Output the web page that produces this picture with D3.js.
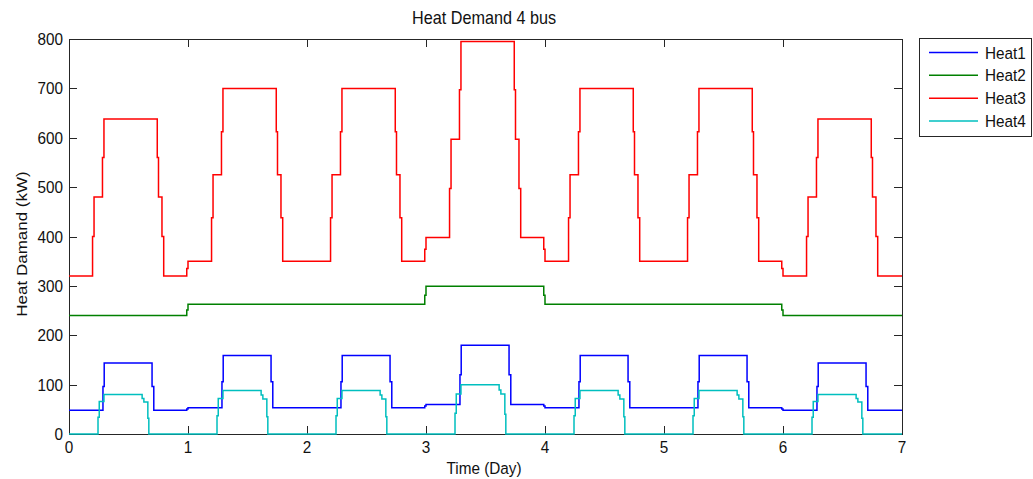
<!DOCTYPE html>
<html>
<head>
<meta charset="utf-8">
<script src="https://cdn.jsdelivr.net/npm/d3@7"></script>
<style>
  body { margin: 0; background: #fff; }
  svg text { font-family: "Liberation Sans", Arial, sans-serif; fill: #111; }
  .frame { fill: none; stroke: #262626; stroke-width: 1; shape-rendering: crispEdges; }
  .tick-mark { stroke: #262626; stroke-width: 1; shape-rendering: crispEdges; }
  .series { fill: none; stroke-width: 1.5; }
</style>
</head>
<body>
<svg id="chart" width="1033" height="479"></svg>
<script>
// one profile per day, levels start at the given hour of that day
const dayCount = 7;
const xTicks = [0, 1, 2, 3, 4, 5, 6, 7];
const yTicks = [0, 100, 200, 300, 400, 500, 600, 700, 800];

const heat1Hours = [0, 6.85, 7.1, 16.75, 17.1];
const heat1Levels = [
    [48, 96, 144, 96, 48],
    [53, 106, 159, 106, 53],
    [53, 106, 159, 106, 53],
    [60, 120, 180, 120, 60],
    [53, 106, 159, 106, 53],
    [53, 106, 159, 106, 53],
    [48, 96, 144, 96, 48],
];
const heat1Midnight = [50.5, 53, 56.5, 56.5, 53, 50.5];

const heat2Hours = [0];
const heat2Levels = [[240], [263], [263], [299], [263], [263], [240]];
const heat2Midnight = [251, 263, 281, 281, 263, 251];

const heat3Hours = [0, 4.75, 5.05, 6.75, 7.05, 17.8, 18.05, 18.75, 19.1];
const heat3Levels = [
    [320, 400, 480, 560, 638, 560, 480, 400, 320],
    [350, 438, 525, 612, 700, 612, 525, 438, 350],
    [350, 438, 525, 612, 700, 612, 525, 438, 350],
    [398, 497, 597, 697, 795, 697, 597, 497, 398],
    [350, 438, 525, 612, 700, 612, 525, 438, 350],
    [350, 438, 525, 612, 700, 612, 525, 438, 350],
    [320, 400, 480, 560, 638, 560, 480, 400, 320],
];
const heat3Midnight = [335, 350, 374, 374, 350, 335];

const heat4Hours = [0, 5.85, 6.1, 7.05, 14.75, 15.1, 15.9, 16.1];
const heat4Levels = [
    [0, 34, 66, 80, 72, 65, 32, 0],
    [0, 37, 72, 88, 79, 71, 35, 0],
    [0, 37, 72, 88, 79, 71, 35, 0],
    [0, 42, 81, 100, 89, 81, 40, 0],
    [0, 37, 72, 88, 79, 71, 35, 0],
    [0, 37, 72, 88, 79, 71, 35, 0],
    [0, 34, 66, 80, 72, 65, 32, 0],
];
const heat4Midnight = [0, 0, 0, 0, 0, 0];

const seriesNames = ['Heat1', 'Heat2', 'Heat3', 'Heat4'];
const seriesColors = ['#0000ff', '#008000', '#ff0000', '#00bfbf'];

// turn the per-day profiles into step points (x in days)
function buildSteps(hours, levels, midnight) {
    const pts = [];
    for (let d = 0; d < dayCount; d++) {
        hours.forEach((h, i) => pts.push([d + h / 24, levels[d][i]]));
        if (d < dayCount - 1) {
            pts.push([d + 23.75 / 24, midnight[d]]);
        }
    }
    const last = levels[dayCount - 1];
    pts.push([dayCount, last[last.length - 1]]);
    return pts;
}

const series = [
    buildSteps(heat1Hours, heat1Levels, heat1Midnight),
    buildSteps(heat2Hours, heat2Levels, heat2Midnight),
    buildSteps(heat3Hours, heat3Levels, heat3Midnight),
    buildSteps(heat4Hours, heat4Levels, heat4Midnight),
];

const plot = {left: 69, right: 902, top: 39, bottom: 434};
const tickLen = 8;
const squeeze = 'scale(0.9,1)';

const svg = d3.select('#chart');

const xScale = d3.scaleLinear()
    .domain([0, 7])
    .range([plot.left, plot.right]);

const yScale = d3.scaleLinear()
    .domain([0, 800])
    .range([plot.bottom, plot.top]);

// axes box
svg.append('rect')
    .attr('class', 'frame')
    .attr('x', plot.left + 0.5)
    .attr('y', plot.top + 0.5)
    .attr('width', plot.right - plot.left)
    .attr('height', plot.bottom - plot.top);

const ticks = svg.append('g');

xTicks.forEach(t => {
    const x = Math.round(xScale(t)) + 0.5;
    ticks.append('line').attr('class', 'tick-mark')
        .attr('x1', x).attr('x2', x)
        .attr('y1', plot.bottom).attr('y2', plot.bottom - tickLen);
    ticks.append('line').attr('class', 'tick-mark')
        .attr('x1', x).attr('x2', x)
        .attr('y1', plot.top).attr('y2', plot.top + tickLen);
    ticks.append('text')
        .attr('transform', 'translate(' + xScale(t) + ',' + 453 + ') ' + squeeze)
        .attr('text-anchor', 'middle')
        .style('font-size', '17px')
        .text(t);
});

yTicks.forEach(v => {
    const y = Math.round(yScale(v)) + 0.5;
    ticks.append('line').attr('class', 'tick-mark')
        .attr('x1', plot.left).attr('x2', plot.left + tickLen)
        .attr('y1', y).attr('y2', y);
    ticks.append('line').attr('class', 'tick-mark')
        .attr('x1', plot.right).attr('x2', plot.right - tickLen)
        .attr('y1', y).attr('y2', y);
    ticks.append('text')
        .attr('transform', 'translate(63,' + (yScale(v) + 6) + ') ' + squeeze)
        .attr('text-anchor', 'end')
        .style('font-size', '17px')
        .text(v);
});

// the four demand curves
const line = d3.line()
    .x(d => xScale(d[0]))
    .y(d => yScale(d[1]))
    .curve(d3.curveStepAfter);

svg.append('g')
  .selectAll('path')
    .data(series)
  .enter().append('path')
    .attr('class', 'series')
    .attr('stroke', (_, i) => seriesColors[i])
    .attr('d', line);

// titles
svg.append('text')
    .attr('transform', 'translate(484,24) ' + squeeze)
    .attr('text-anchor', 'middle')
    .style('font-size', '18px')
    .text('Heat Demand 4 bus');

svg.append('text')
    .attr('transform', 'translate(484,474) ' + squeeze)
    .attr('text-anchor', 'middle')
    .style('font-size', '17px')
    .text('Time (Day)');

svg.append('text')
    .attr('transform', 'translate(26.5,244) ' + squeeze + ' rotate(-90)')
    .attr('text-anchor', 'middle')
    .style('font-size', '17px')
    .text('Heat Damand (kW)');

// legend
const legend = svg.append('g');

legend.append('rect')
    .attr('class', 'frame')
    .attr('x', 919.5)
    .attr('y', 38.5)
    .attr('width', 112)
    .attr('height', 98)
    .style('fill', '#fff');

const rowY = d3.scaleLinear().domain([0, 3]).range([52.5, 121]);

seriesNames.forEach((name, i) => {
    legend.append('line')
        .attr('x1', 929).attr('x2', 978)
        .attr('y1', rowY(i)).attr('y2', rowY(i))
        .attr('stroke', seriesColors[i])
        .attr('stroke-width', 1.5);
    legend.append('text')
        .attr('transform', 'translate(985,' + (rowY(i) + 6) + ') ' + squeeze)
        .style('font-size', '17px')
        .text(name);
});
</script>
</body>
</html>
